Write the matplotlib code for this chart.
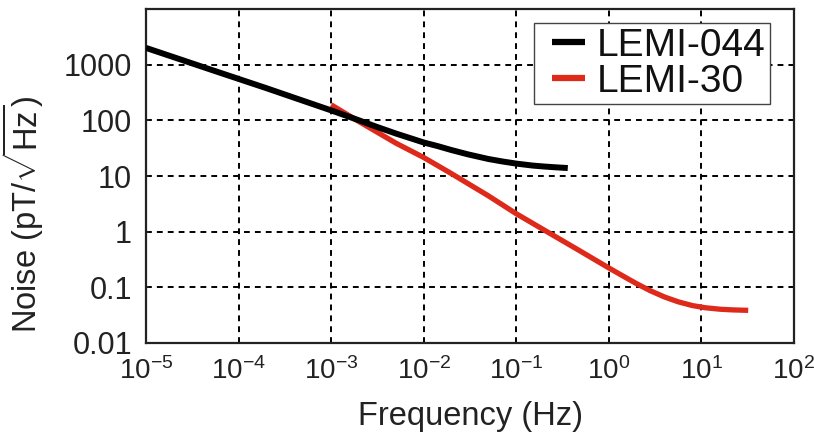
import matplotlib
matplotlib.use("Agg")
import matplotlib.pyplot as plt
from matplotlib.ticker import FixedLocator, FixedFormatter, NullLocator

plt.rcParams['font.family'] = ['Liberation Sans', 'DejaVu Sans']
plt.rcParams['mathtext.fontset'] = 'custom'
plt.rcParams['mathtext.rm'] = 'Liberation Sans'
plt.rcParams['mathtext.it'] = 'Liberation Sans:italic'
plt.rcParams['mathtext.bf'] = 'Liberation Sans:bold'

# LEMI-044 noise curve
lemi044_freq = [1e-5, 2e-5, 5e-5, 1e-4, 2e-4, 5e-4, 1e-3, 2e-3, 3e-3, 5e-3,
                1e-2, 1.4e-2, 2e-2, 3e-2, 5e-2, 7e-2, 1e-1, 1.5e-1, 2e-1,
                2.7e-1, 3.6e-1]
lemi044_noise = [2000, 1360, 815, 555, 378, 224, 151, 100, 78, 58,
                 40, 34.6, 29.2, 24.5, 20.2, 18.3, 16.7, 15.4, 14.8,
                 14.3, 13.9]

# LEMI-30 noise curve
lemi30_freq = [1e-3, 2e-3, 5e-3, 1e-2, 2e-2, 5e-2, 1e-1, 2e-1, 5e-1, 0.7,
               1, 1.4, 2, 2.8, 4, 5.6, 8, 11, 16, 22, 32]
lemi30_noise = [190, 95, 39, 21.5, 11, 4.4, 2.1, 1.07, 0.44, 0.316,
                0.223, 0.162, 0.116, 0.087, 0.067, 0.055, 0.047, 0.043,
                0.0404, 0.0393, 0.0386]

series_labels = ['LEMI-044', 'LEMI-30']
x_ticks = [1e-5, 1e-4, 1e-3, 1e-2, 1e-1, 1e0, 1e1, 1e2]
x_tick_labels = [r'$10^{-5}$', r'$10^{-4}$', r'$10^{-3}$', r'$10^{-2}$',
                 r'$10^{-1}$', r'$10^{0}$', r'$10^{1}$', r'$10^{2}$']
y_ticks = [0.01, 0.1, 1, 10, 100, 1000]
y_tick_labels = ['0.01', '0.1', '1', '10', '100', '1000']

fig = plt.figure(figsize=(8.14, 4.33), dpi=100)
ax = fig.add_axes([146/814, 1-343/433, (794-146)/814, (343-9)/433])

ax.plot(lemi044_freq, lemi044_noise, color='black', lw=4.3,
        solid_capstyle='butt', label=series_labels[0], zorder=3)
ax.plot(lemi30_freq, lemi30_noise, color='#DD2A1B', lw=3.8,
        solid_capstyle='butt', label=series_labels[1], zorder=2)

ax.set_xscale('log')
ax.set_yscale('log')
ax.set_xlim(1e-5, 1e2)
ax.set_ylim(1e-2, 1e4)

ax.xaxis.set_major_locator(FixedLocator(x_ticks))
ax.xaxis.set_major_formatter(FixedFormatter(x_tick_labels))
ax.xaxis.set_minor_locator(NullLocator())
ax.yaxis.set_major_locator(FixedLocator(y_ticks))
ax.yaxis.set_major_formatter(FixedFormatter(y_tick_labels))
ax.yaxis.set_minor_locator(NullLocator())

ax.tick_params(axis='both', colors='#222222', direction='in')
ax.tick_params(axis='y', labelsize=22, pad=10, length=2.5, width=1.2)
ax.tick_params(axis='x', labelsize=20, pad=10, length=0)

ax.grid(True, which='major', color='black', linestyle=(0, (3, 2.6)), lw=1.4)
ax.set_axisbelow(True)
for s in ax.spines.values():
    s.set_linewidth(1.6)
    s.set_color('#222222')

ax.set_xlabel('Frequency (Hz)', fontsize=23.5, color='#222222', labelpad=12)
ax.set_ylabel(r'Noise (pT/$\sqrt{\mathrm{Hz}}$)', fontsize=23.5, color='#222222')
ax.yaxis.set_label_coords((46 - 146) / 648, (343 - 214) / 334)

leg = ax.legend(loc='upper right', bbox_to_anchor=(1 - 24/648, 1 - 14/334),
                fontsize=28, frameon=True, fancybox=False, framealpha=1,
                edgecolor='#444444', handlelength=1.2, handletextpad=0.3,
                labelspacing=0.0, borderpad=0.12, borderaxespad=0)
leg.get_frame().set_linewidth(1.0)
for line in leg.get_lines():
    line.set_linewidth(4.5)
    xd = list(line.get_xdata())
    yd = list(line.get_ydata())
    x0, x1 = xd[0], xd[-1]
    line.set_data([x0 + 0.3 * (x1 - x0), x1], [yd[0], yd[-1]])
for t in leg.get_texts():
    t.set_color('#111111')

fig.savefig('out.png', dpi=100)
